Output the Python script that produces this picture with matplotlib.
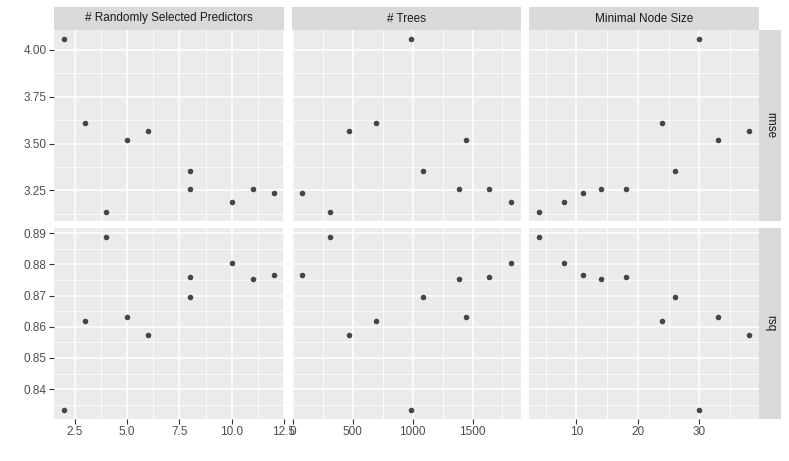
import matplotlib
matplotlib.use("Agg")
import matplotlib.pyplot as plt
import numpy as np

# ---- data ----
mtry = [2, 3, 4, 5, 6, 8, 8, 10, 11, 12]
trees = [983, 695, 311, 1447, 467, 1089, 1636, 1820, 1383, 78]
min_n = [30, 24, 4, 33, 38, 26, 18, 8, 14, 11]
rmse = [4.059, 3.607, 3.133, 3.517, 3.566, 3.351, 3.259, 3.188, 3.255, 3.238]
rsq = [0.8333, 0.8619, 0.8889, 0.8630, 0.8574, 0.8694, 0.8761, 0.8806, 0.8752, 0.8765]

col_titles = ["# Randomly Selected Predictors", "# Trees", "Minimal Node Size"]
row_titles = ["rmse", "rsq"]

x_breaks = [[2.5, 5.0, 7.5, 10.0, 12.5], [0, 500, 1000, 1500], [10, 20, 30]]
x_labels = [["2.5", "5.0", "7.5", "10.0", "12.5"], ["0", "500", "1000", "1500"], ["10", "20", "30"]]
y_breaks = [[3.25, 3.50, 3.75, 4.00], [0.84, 0.85, 0.86, 0.87, 0.88, 0.89]]
y_labels = [["3.25", "3.50", "3.75", "4.00"], ["0.84", "0.85", "0.86", "0.87", "0.88", "0.89"]]

xs = [mtry, trees, min_n]
ys = [rmse, rsq]

plt.rcParams['font.family'] = ['Liberation Sans', 'DejaVu Sans']

W, H = 789, 461
fig = plt.figure(figsize=(W / 100, H / 100), dpi=100)
fig.patch.set_facecolor('white')

col_x = [(54, 284), (291.7, 521.3), (529, 759)]
row_y = [(30, 221), (228, 418.7)]
strip_top = (7, 30)
strip_right = (759, 781)


def rect(x0, x1, y0, y1):
    return [x0 / W, 1 - y1 / H, (x1 - x0) / W, (y1 - y0) / H]


def expand(v):
    lo, hi = min(v), max(v)
    r = hi - lo
    return lo - 0.05 * r, hi + 0.05 * r


def minors(breaks, lim):
    b = list(breaks)
    step = b[1] - b[0]
    cand = [b[0] - step / 2] + [(b[i] + b[i + 1]) / 2 for i in range(len(b) - 1)] + [b[-1] + step / 2]
    return [c for c in cand if lim[0] <= c <= lim[1]]


for r in range(2):
    for c in range(3):
        ax = fig.add_axes(rect(col_x[c][0], col_x[c][1], row_y[r][0], row_y[r][1]))
        ax.set_facecolor('#EBEBEB')
        for s in ax.spines.values():
            s.set_visible(False)
        xl = expand(xs[c])
        yl = expand(ys[r])
        ax.set_xlim(xl)
        ax.set_ylim(yl)
        for m in minors(x_breaks[c], xl):
            ax.axvline(m, color='white', lw=0.55, zorder=0.5)
        for m in minors(y_breaks[r], yl):
            ax.axhline(m, color='white', lw=0.55, zorder=0.5)
        for b in x_breaks[c]:
            if xl[0] <= b <= xl[1]:
                ax.axvline(b, color='white', lw=1.1, zorder=0.6)
        for b in y_breaks[r]:
            ax.axhline(b, color='white', lw=1.1, zorder=0.6)
        ax.scatter(xs[c], ys[r], s=16, color='#333333', alpha=0.9, linewidths=0, zorder=3)
        ax.set_xticks(x_breaks[c])
        ax.set_yticks(y_breaks[r])
        ax.tick_params(length=3.5, width=0.8, color='#333333', labelsize=8.5, labelcolor='#4D4D4D', pad=2)
        if r == 1:
            ax.set_xticklabels(x_labels[c])
        else:
            ax.tick_params(axis='x', length=0, labelbottom=False)
        if c == 0:
            ax.set_yticklabels(y_labels[r])
        else:
            ax.tick_params(axis='y', length=0, labelleft=False)

        if r == 0:
            sax = fig.add_axes(rect(col_x[c][0], col_x[c][1], strip_top[0], strip_top[1]))
            sax.set_facecolor('#D9D9D9')
            sax.set_xticks([]); sax.set_yticks([])
            for s in sax.spines.values():
                s.set_visible(False)
            sax.text(0.5, 0.5, col_titles[c], ha='center', va='center', fontsize=8.5,
                     color='#1A1A1A', transform=sax.transAxes)
        if c == 2:
            sax = fig.add_axes(rect(strip_right[0], strip_right[1], row_y[r][0], row_y[r][1]))
            sax.set_facecolor('#D9D9D9')
            sax.set_xticks([]); sax.set_yticks([])
            for s in sax.spines.values():
                s.set_visible(False)
            sax.text(0.5, 0.5, row_titles[r], ha='center', va='center', fontsize=8.5,
                     color='#1A1A1A', rotation=270, transform=sax.transAxes)

fig.savefig('out.png', dpi=100, facecolor='white')
